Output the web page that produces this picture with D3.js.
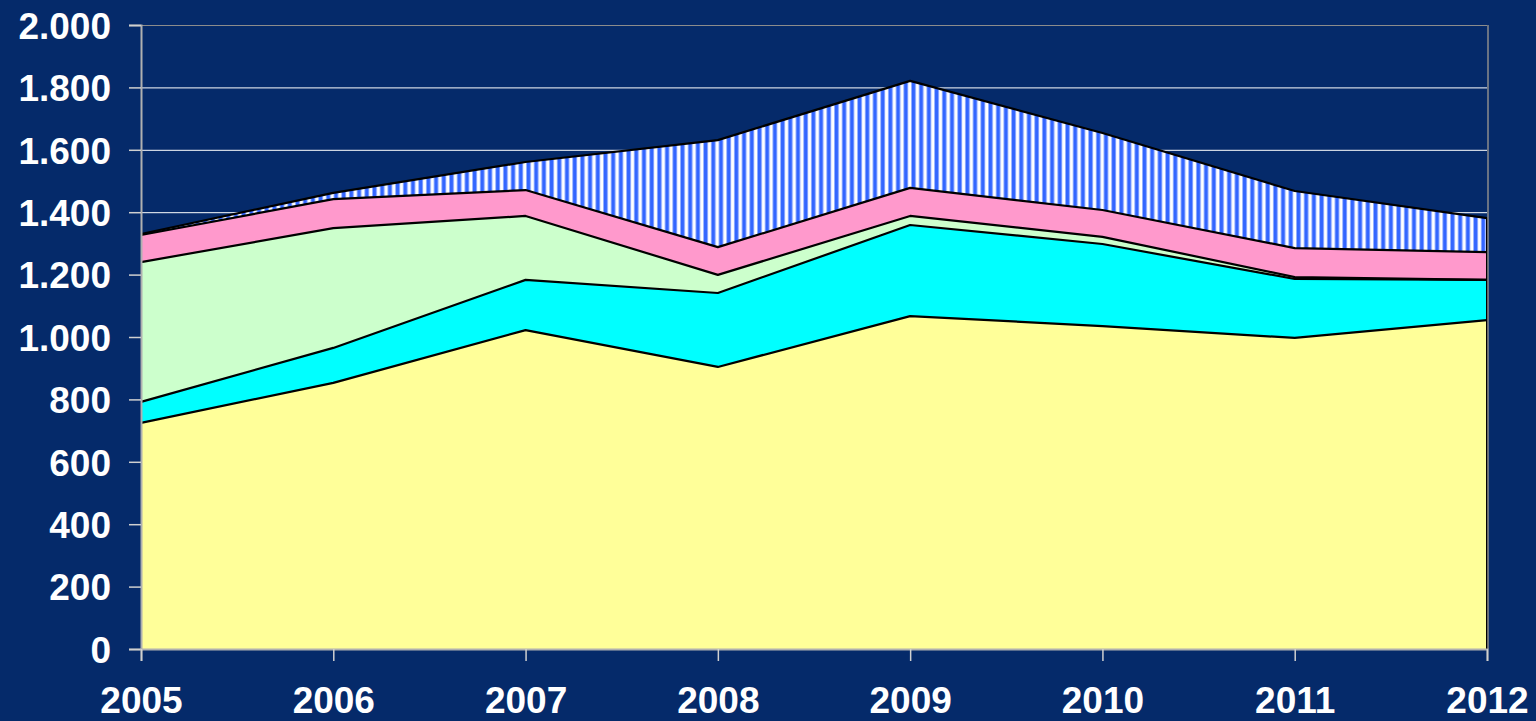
<!DOCTYPE html>
<html>
<head>
<meta charset="UTF-8">
<script src="https://d3js.org/d3.v7.min.js"></script>
<style>
  body { margin: 0; background: #052a6a; }
</style>
</head>
<body>
<div id="chart"></div>
<script>
// values (stacked, bottom to top)
var years = ["2005", "2006", "2007", "2008", "2009", "2010", "2011", "2012"];
var yellowVals = [725, 853, 1022, 904, 1067, 1035, 997, 1054];
var cyanVals = [67, 112, 161, 237, 292, 263, 189, 129];
var greenVals = [448, 384, 205, 58, 29, 23, 6, 0];
var pinkVals = [87, 93, 83, 89, 90, 86, 93, 89];
var stripeVals = [3, 20, 90, 343, 343, 247, 183, 109];
var yTicks = [0, 200, 400, 600, 800, 1000, 1200, 1400, 1600, 1800, 2000];

var keys = ["yellow", "cyan", "green", "pink", "stripe"];
var fills = {
  yellow: "#ffff99",
  cyan: "#00ffff",
  green: "#ccffcc",
  pink: "#ff99cc",
  stripe: "url(#stripes)"
};

var rows = years.map(function (y, i) {
  return { year: y, yellow: yellowVals[i], cyan: cyanVals[i], green: greenVals[i], pink: pinkVals[i], stripe: stripeVals[i] };
});

var W = 1536, H = 721;
var margin = { top: 25, right: 49, bottom: 72, left: 141 };
var width = W - margin.left - margin.right,
    height = H - margin.top - margin.bottom;

var svg = d3.select("#chart").append("svg")
  .attr("width", W).attr("height", H)
  .style("display", "block");

svg.append("rect").attr("width", W).attr("height", H).attr("fill", "#052a6a");

// vertical stripe pattern
var pat = svg.append("defs").append("pattern")
  .attr("id", "stripes")
  .attr("patternUnits", "userSpaceOnUse")
  .attr("width", 7.7).attr("height", 10);
pat.append("rect").attr("width", 7.7).attr("height", 10).attr("fill", "#ffffff");
pat.append("rect").attr("x", 0).attr("width", 5).attr("height", 10).attr("fill", "#a8bfff");
pat.append("rect").attr("x", 0.8).attr("width", 3.4).attr("height", 10).attr("fill", "#3366ff");

var g = svg.append("g").attr("transform", "translate(" + margin.left + "," + margin.top + ")");

var x = d3.scalePoint().domain(years).range([0, width]);
var y = d3.scaleLinear().domain([0, 2000]).range([height, 0]);

// gridlines
g.selectAll(".grid").data(yTicks.slice(1)).enter().append("line")
  .attr("x1", 0).attr("x2", width)
  .attr("y1", function (d) { return y(d) + 0.5; })
  .attr("y2", function (d) { return y(d) + 0.5; })
  .attr("stroke", "#ffffff").attr("stroke-width", 1);

var series = d3.stack().keys(keys)(rows);

var area = d3.area()
  .x(function (d) { return x(d.data.year); })
  .y0(function (d) { return y(d[0]); })
  .y1(function (d) { return y(d[1]); });

g.selectAll(".layer").data(series).enter().append("path")
  .attr("d", area)
  .attr("fill", function (d) { return fills[d.key]; })
  .attr("stroke", "none");

var topLine = d3.line()
  .x(function (d) { return x(d.data.year); })
  .y(function (d) { return y(d[1]); });

g.selectAll(".edge").data(series).enter().append("path")
  .attr("d", topLine)
  .attr("fill", "none")
  .attr("stroke", "#000000")
  .attr("stroke-width", 2.2)
  .attr("stroke-linejoin", "round");

// right edge of the areas
g.append("line")
  .attr("x1", width).attr("x2", width)
  .attr("y1", y(0)).attr("y2", y(d3.sum(keys, function (k) { return rows[rows.length - 1][k]; })))
  .attr("stroke", "#000").attr("stroke-width", 2);

// plot border (top and right), axes
g.append("line").attr("x1", 0).attr("x2", width).attr("y1", 0.5).attr("y2", 0.5)
  .attr("stroke", "#8c8c8c").attr("stroke-width", 1);
g.append("line").attr("x1", width + 1).attr("x2", width + 1).attr("y1", 0).attr("y2", height)
  .attr("stroke", "#8c8c8c").attr("stroke-width", 1.5);

var yAxis = g.append("g")
  .call(d3.axisLeft(y).tickValues(yTicks).tickSize(12).tickPadding(18)
    .tickFormat(function (d) { return d3.format(",")(d).replace(",", "."); }));
var xAxis = g.append("g").attr("transform", "translate(0," + height + ")")
  .call(d3.axisBottom(x).tickSize(12).tickPadding(26));

[yAxis, xAxis].forEach(function (a) {
  a.select(".domain").attr("stroke", "#b0b0b0").attr("stroke-width", 2);
  a.selectAll(".tick line").attr("stroke", "#d0d0d0").attr("stroke-width", 1.5);
  a.selectAll("text")
    .attr("fill", "#ffffff")
    .style("font-family", "Liberation Sans, Arial, sans-serif")
    .style("font-weight", "bold")
    .style("font-size", "37px");
});
yAxis.selectAll("text").attr("dy", "0.36em");
</script>
</body>
</html>
